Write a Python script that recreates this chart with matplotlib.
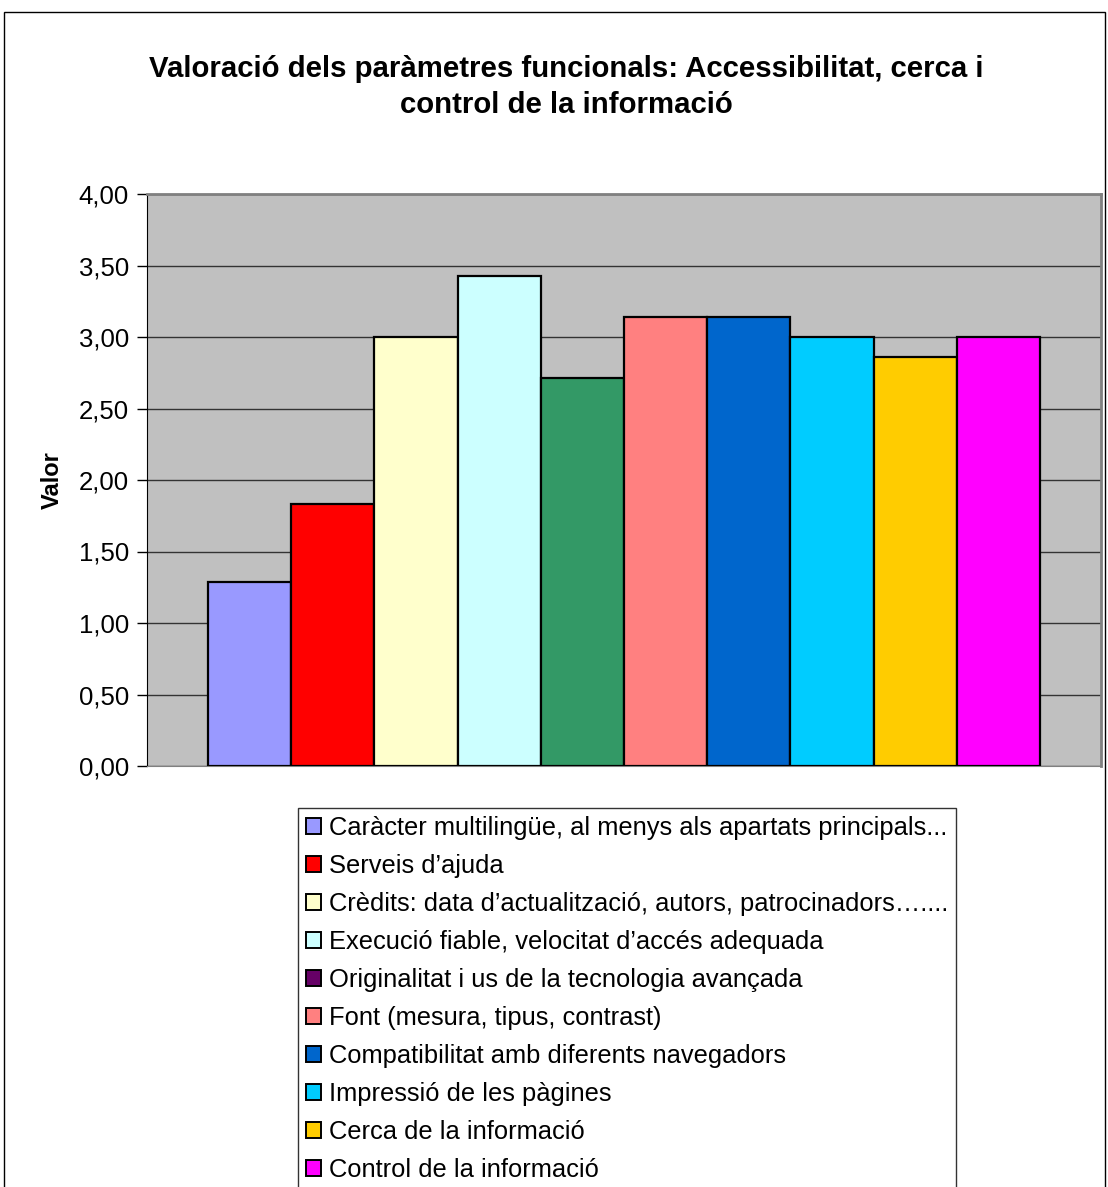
import matplotlib
matplotlib.use("Agg")
import matplotlib.pyplot as plt
from matplotlib.patches import Rectangle, Patch
from matplotlib.ticker import FuncFormatter

plt.rcParams['font.family'] = ['Liberation Sans', 'DejaVu Sans']

categories = [
    "Caràcter multilingüe, al menys als apartats principals...",
    "Serveis d’ajuda",
    "Crèdits: data d’actualització, autors, patrocinadors…....",
    "Execució fiable, velocitat d’accés adequada",
    "Originalitat i us de la tecnologia avançada",
    "Font (mesura, tipus, contrast)",
    "Compatibilitat amb diferents navegadors",
    "Impressió de les pàgines",
    "Cerca de la informació",
    "Control de la informació",
]
values = [1.29, 1.83, 3.00, 3.43, 2.71, 3.14, 3.14, 3.00, 2.86, 3.00]
bar_colors = ["#9999FF", "#FF0000", "#FFFFCC", "#CCFFFF", "#339966",
              "#FF8080", "#0066CC", "#00CCFF", "#FFCC00", "#FF00FF"]
legend_colors = ["#9999FF", "#FF0000", "#FFFFCC", "#CCFFFF", "#660066",
                 "#FF8080", "#0066CC", "#00CCFF", "#FFCC00", "#FF00FF"]
yticks = [0, 0.5, 1.0, 1.5, 2.0, 2.5, 3.0, 3.5, 4.0]

W, H = 1108, 1187
fig = plt.figure(figsize=(W / 100, H / 100), dpi=100)
fig.patch.set_facecolor("white")

# outer chart border
fig.patches.append(Rectangle((4 / W, -0.05), (1105 - 4) / W, 1 - 12 / H + 0.05,
                             transform=fig.transFigure, fill=False,
                             edgecolor="black", linewidth=1.0))

left, right, top, bottom = 147, 1101, 194, 766
ax = fig.add_axes([left / W, 1 - bottom / H, (right - left) / W, (bottom - top) / H])
ax.set_facecolor("#C0C0C0")

xs = list(range(len(values)))
ax.bar(xs, values, width=1.0, color=bar_colors, edgecolor="black",
       linewidth=1.6, zorder=3)
gap = 0.735
ax.set_xlim(-0.5 - gap, len(values) - 0.5 + gap)
ax.set_ylim(0, 4)
ax.set_yticks(yticks)
ax.yaxis.set_major_formatter(FuncFormatter(lambda v, p: f"{v:.2f}".replace(".", ",")))
ax.set_xticks([])
ax.grid(axis="y", color="#333333", linewidth=1.0, zorder=1)
ax.set_axisbelow(True)
ax.tick_params(axis="y", direction="out", length=7, width=1, labelsize=18.5, pad=6)
for s in ["top", "right"]:
    ax.spines[s].set_color("#808080")
    ax.spines[s].set_linewidth(2.0)
ax.spines["left"].set_color("black")
ax.spines["bottom"].set_color("#808080")
ax.set_ylabel("Valor", fontsize=17, fontweight="bold")
ax.yaxis.set_label_coords((64 - left) / (right - left), 0.5)

fig.text(566 / W, 1 - 87 / H,
         "Valoració dels paràmetres funcionals: Accessibilitat, cerca i\ncontrol de la informació",
         ha="center", va="center", fontsize=21.2, fontweight="bold", linespacing=1.38)

handles = [Patch(facecolor=c, edgecolor="black", linewidth=1.4) for c in legend_colors]
leg = fig.legend(handles, categories, loc="upper left",
                 bbox_to_anchor=(298 / W, 1 - 808 / H), fontsize=18.4,
                 frameon=True, fancybox=False, edgecolor="black",
                 handlelength=0.6, handleheight=0.6, handletextpad=0.3,
                 labelspacing=0.55, borderpad=0.3, borderaxespad=0)
leg.get_frame().set_linewidth(1.0)

fig.savefig("out.png", dpi=100, facecolor="white")
